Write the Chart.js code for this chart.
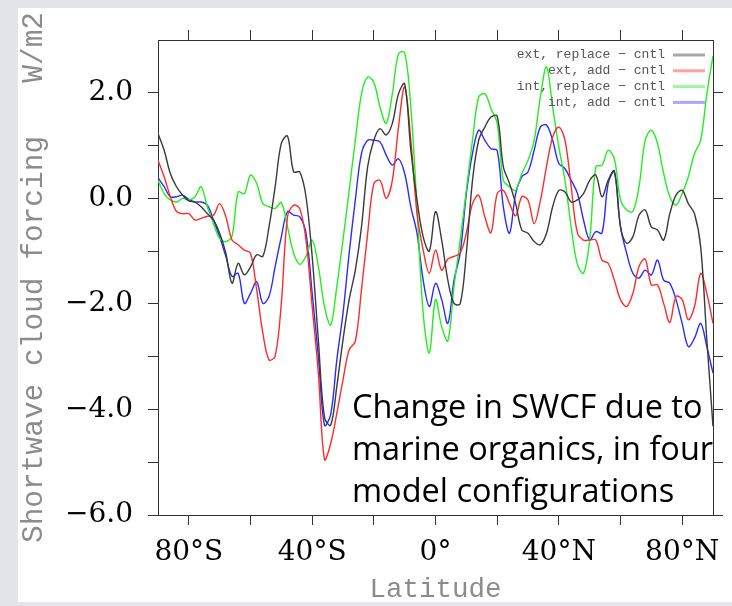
<!DOCTYPE html>
<html>
<head>
<meta charset="utf-8">
<title>SWCF</title>
<script src="https://cdn.jsdelivr.net/npm/chart.js@4.4.1/dist/chart.umd.min.js"></script>
<style>
  html, body { margin: 0; padding: 0; background: #e4e5eb; }
  #wrap { width: 732px; height: 606px; }
</style>
</head>
<body>
<div id="wrap"><canvas id="grafico" width="732" height="606"></canvas></div>
<script>
// Latitudes (graus, sul negativo)
const latitudes = [
  -90, -88, -86, -84, -82, -80, -78, -76, -74, -72, -70, -68, -66, -64, -62, -60,
  -58, -56, -54, -52, -50, -48, -46, -44, -42, -40, -38, -36, -34, -32, -30, -28,
  -26, -24, -22, -20, -18, -16, -14, -12, -10, -8, -6, -4, -2, 0, 2, 4, 6, 8, 10,
  12, 14, 16, 18, 20, 22, 24, 26, 28, 30, 32, 34, 36, 38, 40, 42, 44, 46, 48, 50,
  52, 54, 56, 58, 60, 62, 64, 66, 68, 70, 72, 74, 76, 78, 80, 82, 84, 86, 88, 90
];

const extReplace = [
  1.23, 0.91, 0.47, 0.22, 0.06, -0.05, -0.07, -0.16, -0.29, -0.41, -0.66, -1.04, -1.61, -1.23, -1.45, -1.30,
  -1.07, -1.10, -0.54, 0.22, 1.04, 1.18, 0.50, 0.50, 0.03, -1.10, -2.68, -4.15, -4.30, -3.56, -2.68, -1.92,
  -1.36, -0.54, 0.60, 1.10, 1.32, 1.20, 1.42, 1.98, 2.17, 0.91, -0.03, -0.73, -1.00, -0.25, -0.79, -1.55, -1.99, -2.00, -1.04,
  0.34, 1.10, 1.35, 1.54, 1.56, 0.60, 0.28, -0.10, -0.60, -0.66, -0.82, -0.88, -0.66, -0.16, 0.15, 0.12, -0.07, -0.03, 0.09, 0.34,
  0.44, 0.03, 0.34, 0.52, -0.54, -0.85, -0.73, -0.32, -0.22, -0.54, -0.60, -0.79, -0.29, 0.06, 0.15, -0.10, -0.29, -0.92, -2.68, -4.32
];

const extAdd = [
  0.72, 0.41, 0.03, -0.25, -0.29, -0.29, -0.41, -0.38, -0.34, -0.32, -0.10, -0.35, -0.79, -0.88, -0.98, -1.04,
  -1.73, -2.55, -3.06, -2.99, -1.99, -0.35, -0.13, -0.20, -0.79, -2.05, -3.31, -4.95, -4.65, -4.07, -3.44, -2.87,
  -2.71, -1.73, -0.66, 0.28, 0.34, 0.00, 0.34, 1.35, 2.11, 1.10, -0.29, -0.98, -1.42, -0.98, -1.36, -1.15, -1.10, -1.04, -0.66,
  -0.10, 0.06, -0.35, -0.65, 0.09, 0.15, -0.10, -0.33, 0.03, -0.03, -0.48, -0.05, 0.60, 1.16, 1.35, 1.10, 0.22, -0.65, -0.79, -0.79,
  -0.79, -1.17, -1.23, -1.55, -1.92, -2.05, -1.80, -1.29, -1.15, -1.64, -1.64, -1.99, -2.35, -1.86, -1.92, -2.30, -2.05, -1.42, -1.80, -2.37
];

const intReplace = [
  0.34, 0.09, -0.03, -0.07, 0.00, -0.03, 0.03, 0.22, -0.16, -0.48, -0.76, -0.82, -0.72, 0.12, 0.09, 0.44,
  0.28, -0.10, -0.16, -0.19, -0.08, -0.54, -1.04, -1.25, -1.10, -0.79, -1.29, -2.05, -2.40, -1.67, -0.79, 0.15,
  1.10, 1.98, 2.30, 2.20, 1.73, 1.42, 1.98, 2.74, 2.76, 1.73, -0.16, -2.18, -2.93, -1.92, -2.43, -2.70, -1.67, -0.79, 0.15,
  1.10, 1.92, 1.98, 1.70, 1.42, 0.34, 0.22, 0.15, 0.47, 0.72, 1.10, 1.92, 2.49, 1.73, 0.97, 0.34, -0.54, -1.25, -1.42, -0.79,
  0.60, 0.63, 0.91, 0.75, -0.03, -0.22, -0.25, 0.22, 1.10, 1.29, 1.04, 0.47, 0.03, -0.13, 0.09, 0.41, 0.85, 1.10, 1.98, 2.70
];

const intAdd = [
  0.39, 0.22, 0.03, 0.03, 0.06, -0.02, -0.07, -0.07, -0.13, -0.41, -0.73, -1.10, -1.48, -1.42, -1.99, -1.80,
  -1.58, -1.99, -1.86, -1.29, -0.73, -0.25, -0.32, -0.35, -0.66, -1.80, -2.99, -4.30, -4.10, -3.06, -2.18, -1.04,
  -0.03, 0.85, 1.10, 1.10, 1.07, 0.82, 0.63, 0.75, 0.47, -0.16, -0.66, -1.55, -2.05, -1.61, -1.92, -2.37, -1.55, -1.04, 0.09,
  0.85, 1.29, 1.10, 0.94, 0.91, -0.16, -0.66, 0.09, 0.41, 0.50, 0.91, 1.35, 1.39, 1.10, 0.66, 0.56, 0.34, 0.10, -0.41, -0.79,
  -0.63, -0.66, 0.28, 0.50, -0.54, -1.04, -1.42, -1.51, -1.36, -1.45, -1.17, -1.55, -1.61, -1.92, -2.37, -2.81, -2.65, -2.37, -2.81, -3.31
];

const nomesSeries = ['ext, replace \u2212 cntl', 'ext, add \u2212 cntl', 'int, replace \u2212 cntl', 'int, add \u2212 cntl'];

const xTickValues = [-80, -60, -40, -20, 0, 20, 40, 60, 80];
const xTickLabels = ['80°S', '', '40°S', '', '0°', '', '40°N', '', '80°N'];
const yTickValues = [-6, -5, -4, -3, -2, -1, 0, 1, 2];
const yTickLabels = ['\u22126.0', '', '\u22124.0', '', '\u22122.0', '', '0.0', '', '2.0'];

const notaTexto = ['Change in SWCF due to', 'marine organics, in four', 'model configurations'];

const cores = ['#3a3a3a', '#ff2b2b', '#22ee22', '#2b2bff'];
const coresLegenda = ['#a8a8a8', '#ffa0a0', '#a0f5a0', '#a8a8ff'];

const serie = (valores) => latitudes.map((lat, i) => ({ x: lat, y: valores[i] }));

// fundo branco do "slide"
const fundo = {
  id: 'fundo',
  beforeDraw(chart) {
    const ctx = chart.ctx;
    ctx.save();
    ctx.fillStyle = '#ffffff';
    ctx.fillRect(18, 8, chart.width - 18, 594);
    ctx.restore();
  },
};

// legenda no canto superior direito, estilo NCL
const legenda = {
  id: 'legenda',
  afterDatasetsDraw(chart) {
    const { ctx, chartArea } = chart;
    ctx.save();
    ctx.font = '13px "Liberation Mono", monospace';
    ctx.textAlign = 'right';
    ctx.textBaseline = 'middle';
    chart.data.datasets.forEach((ds, i) => {
      const y = chartArea.top + 15 + i * 15.8;
      ctx.fillStyle = '#555555';
      ctx.fillText(ds.label, chartArea.right - 48, y);
      ctx.strokeStyle = coresLegenda[i];
      ctx.lineWidth = 3;
      ctx.beginPath();
      ctx.moveTo(chartArea.right - 40, y);
      ctx.lineTo(chartArea.right - 8, y);
      ctx.stroke();
    });
    ctx.restore();
  },
};

// texto explicativo sobre o gráfico
const nota = {
  id: 'nota',
  afterDatasetsDraw(chart) {
    const { ctx, chartArea } = chart;
    ctx.save();
    ctx.font = '32.5px "Open Sans", sans-serif';
    ctx.fillStyle = '#000000';
    ctx.textAlign = 'left';
    ctx.textBaseline = 'alphabetic';
    notaTexto.forEach((linha, i) => {
      ctx.fillText(linha, chartArea.left + 194, chartArea.top + 378 + i * 42);
    });
    ctx.restore();
  },
};

const eixoComum = {
  type: 'linear',
  grid: { drawOnChartArea: false, drawTicks: true, tickLength: 10, color: '#333333', lineWidth: 1 },
  border: { display: true, color: '#333333', width: 1 },
};

const fonteTicks = { family: '"DejaVu Serif", serif', size: 28 };

new Chart(document.getElementById('grafico'), {
  type: 'line',
  data: {
    datasets: [extReplace, extAdd, intReplace, intAdd].map((valores, i) => ({
      label: nomesSeries[i],
      data: serie(valores),
      borderColor: cores[i],
      borderWidth: 1.4,
      pointRadius: 0,
      tension: 0.35,
      fill: false,
    })),
  },
  options: {
    responsive: false,
    animation: false,
    layout: { padding: 0 },
    plugins: { legend: { display: false }, tooltip: { enabled: false } },
    scales: {
      x: {
        ...eixoComum,
        position: 'bottom',
        min: -90,
        max: 90,
        afterBuildTicks: (s) => { s.ticks = xTickValues.map(v => ({ value: v })); },
        afterFit: (s) => { s.height = 91; },
        ticks: {
          autoSkip: false, maxRotation: 0, padding: 11, color: '#000000', font: fonteTicks,
          callback: (v, i) => xTickLabels[i],
        },
        title: {
          display: true, text: 'Latitude', color: '#8c8c8c',
          font: { family: '"Liberation Mono", monospace', size: 27.5 }, padding: 0,
        },
      },
      x2: {
        ...eixoComum,
        position: 'top',
        min: -90,
        max: 90,
        afterBuildTicks: (s) => { s.ticks = xTickValues.map(v => ({ value: v })); },
        afterFit: (s) => { s.height = 40; },
        ticks: { display: false },
      },
      y: {
        ...eixoComum,
        position: 'left',
        min: -6,
        max: 3,
        afterBuildTicks: (s) => { s.ticks = yTickValues.map(v => ({ value: v })); },
        afterFit: (s) => { s.width = 158; },
        ticks: {
          autoSkip: false, padding: 15, color: '#000000', font: fonteTicks,
          callback: (v, i) => yTickLabels[i],
        },
        title: {
          display: true, text: 'Shortwave cloud forcing   W/m2', color: '#8c8c8c',
          font: { family: '"Liberation Mono", monospace', size: 29.5 }, padding: { top: 16, bottom: 0 },
        },
      },
      y2: {
        ...eixoComum,
        position: 'right',
        min: -6,
        max: 3,
        afterBuildTicks: (s) => { s.ticks = yTickValues.map(v => ({ value: v })); },
        afterFit: (s) => { s.width = 19; },
        ticks: { display: false },
      },
    },
  },
  plugins: [fundo, legenda, nota],
});
</script>
</body>
</html>
